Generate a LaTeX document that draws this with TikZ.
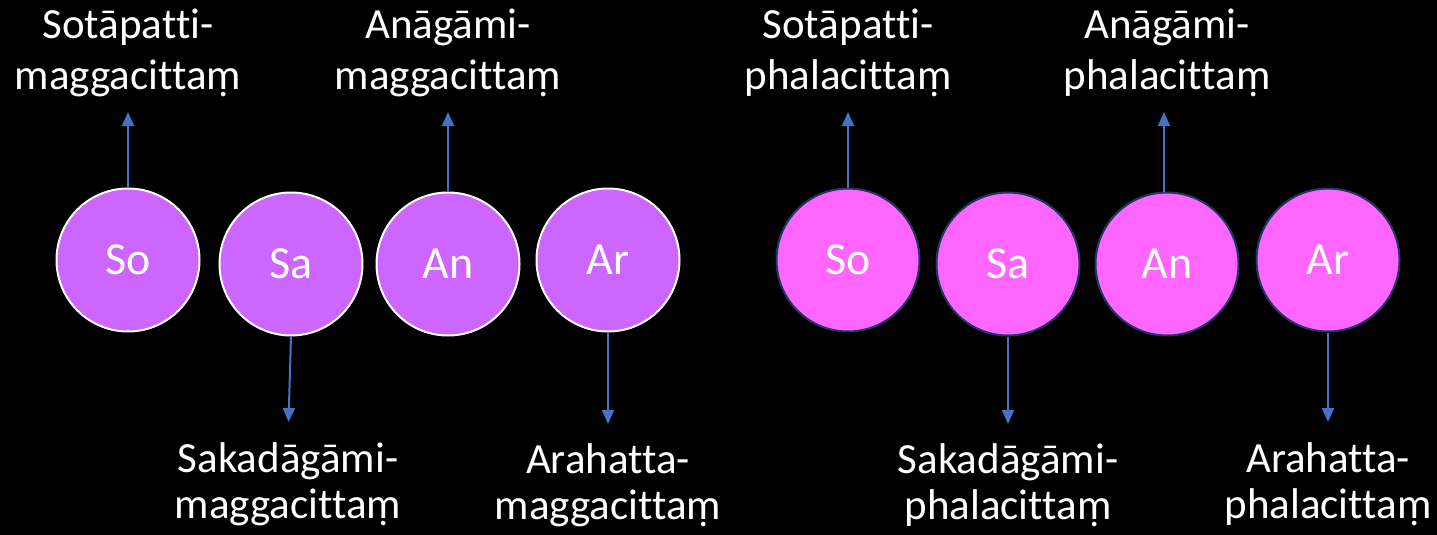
\documentclass[tikz,border=0pt]{standalone}
\usepackage{fontspec}
\setmainfont[Ligatures=CommonOff]{Carlito}
\usetikzlibrary{arrows.meta}
\definecolor{lilac}{HTML}{CC66FF}
\definecolor{pinkish}{HTML}{FF66FF}
\definecolor{arrowblue}{HTML}{4472C4}
\definecolor{navyline}{HTML}{1F3864}
\begin{document}
\begin{tikzpicture}[x=1pt,y=-1pt,
  magga/.style={circle, fill=lilac, draw=white, line width=2pt, minimum size=143pt, inner sep=0pt, text=white, font=\fontsize{46}{50}\selectfont},
  phala/.style={magga, fill=pinkish, draw=navyline},
  toplbl/.style={text=white, align=center, anchor=base, inner sep=0pt, font=\fontsize{43}{51}\selectfont},
  botlbl/.style={text=white, align=center, anchor=base, inner sep=0pt, font=\fontsize{43}{46}\selectfont},
  arr/.style={draw=arrowblue, line width=2pt, -{Triangle[width=12pt,length=14pt]}, fill=arrowblue}]
\fill[black] (0,0) rectangle (1437,535);
\useasboundingbox (0,0) rectangle (1437,535);
% magga circles
\node[magga] (mso) at (128,260) {So};
\node[magga] (msa) at (291,264) {Sa};
\node[magga] (man) at (448,264) {An};
\node[magga] (mar) at (608,260) {Ar};
% phala circles
\node[phala] (pso) at (848,260) {So};
\node[phala] (psa) at (1008,264) {Sa};
\node[phala] (pan) at (1167,264) {An};
\node[phala] (par) at (1328,260) {Ar};
% labels (base = baseline of last line)
\node[toplbl] (lmso) at (128,89) {Sotāpatti-\\maggacittaṃ};
\node[toplbl] (lman) at (448,89) {Anāgāmi-\\maggacittaṃ};
\node[botlbl] (lmsa) at (288,518) {Sakadāgāmi-\\maggacittaṃ};
\node[botlbl] (lmar) at (608,519) {Arahatta-\\maggacittaṃ};
\node[toplbl] (lpso) at (848,89) {Sotāpatti-\\phalacittaṃ};
\node[toplbl] (lpan) at (1167,89) {Anāgāmi-\\phalacittaṃ};
\node[botlbl] (lpsa) at (1008,519) {Sakadāgāmi-\\phalacittaṃ};
\node[botlbl] (lpar) at (1328,518) {Arahatta-\\phalacittaṃ};
% arrow ends
\coordinate (tmso) at (128,112);
\coordinate (tman) at (448,112);
\coordinate (tmsa) at (288.5,422);
\coordinate (tmar) at (608,424);
\coordinate (tpso) at (848,112);
\coordinate (tpan) at (1164,112);
\coordinate (tpsa) at (1008,424);
\coordinate (tpar) at (1328,422);
% arrows
\draw[arr] (mso.north) -- (tmso);
\draw[arr] (man.north) -- (tman);
\draw[arr] (msa.south) -- (tmsa);
\draw[arr] (mar.south) -- (tmar);
\draw[arr] (pso.north) -- (tpso);
\draw[arr] ([xshift=-3pt]pan.north) -- (tpan);
\draw[arr] (psa.south) -- (tpsa);
\draw[arr] (par.south) -- (tpar);
\end{tikzpicture}
\end{document}
